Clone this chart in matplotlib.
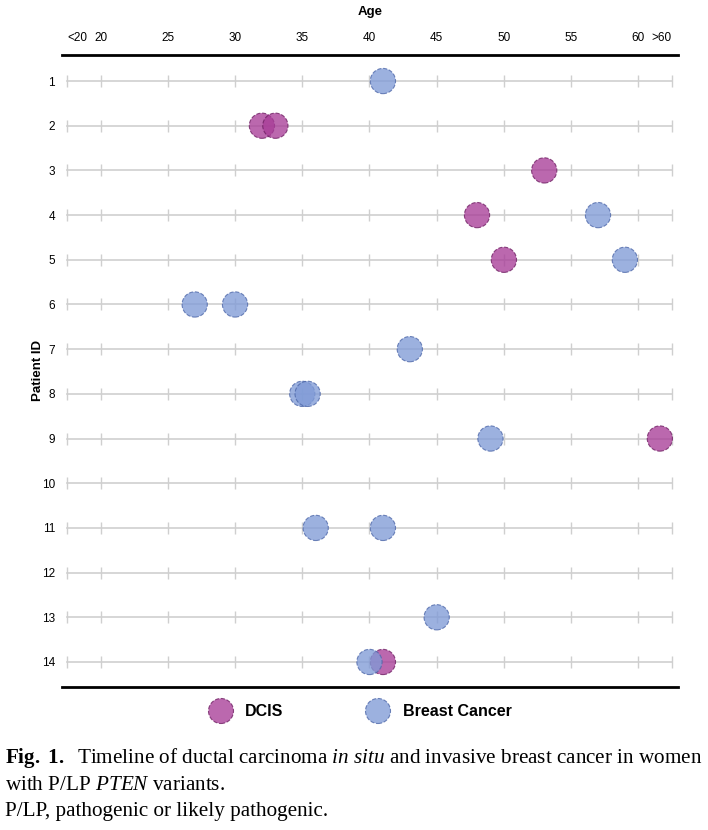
import numpy as np
import matplotlib
matplotlib.use("Agg")
import matplotlib.pyplot as plt

# ---------------- DATA ----------------
tick_pos = [17.5, 20, 25, 30, 35, 40, 45, 50, 55, 60, 62.5]
tick_labels = ["<20", "20", "25", "30", "35", "40", "45", "50", "55", "60", ">60"]
patients = list(range(1, 15))

dcis_patient = [2, 2, 3, 4, 5, 9, 14]
dcis_age = [32, 33, 53, 48, 50, 61.6, 41]

bc_patient = [1, 4, 5, 6, 6, 7, 8, 8, 9, 11, 11, 13, 14]
bc_age = [41, 57, 59, 27, 30, 43, 35, 35.4, 49, 36, 41, 45, 40]

# ---------------- STYLE ----------------
DCIS_COLOR = "#A83D98"
DCIS_EDGE = "#6E1E62"
BC_COLOR = "#809BD7"
BC_EDGE = "#4C66A8"
GRID = "#cfcfcf"
label_font = ["Liberation Sans Narrow", "Liberation Sans", "DejaVu Sans"]

plt.rcParams['font.family'] = ["Liberation Sans", "DejaVu Sans"]
plt.rcParams['mathtext.fontset'] = 'custom'
plt.rcParams['mathtext.rm'] = 'Liberation Serif'
plt.rcParams['mathtext.it'] = 'Liberation Serif:italic'
plt.rcParams['mathtext.bf'] = 'Liberation Serif:bold'

fig = plt.figure(figsize=(7.08, 8.30), dpi=100)
ax = fig.add_axes([0.0876, 0.1723, 0.870, 0.7614])

# row lines with small tick marks
for p in patients:
    ax.plot([tick_pos[0], tick_pos[-1]], [p, p], color=GRID, lw=1.2, zorder=1)
    ax.plot(tick_pos, [p] * len(tick_pos), linestyle="none", marker="|",
            markersize=9, color=GRID, markeredgewidth=1.0, zorder=1)

ax.scatter(dcis_age, dcis_patient, s=330, color=DCIS_COLOR, alpha=0.78,
           edgecolors=DCIS_EDGE, linewidths=0.8, linestyle="--", zorder=3)
ax.scatter(bc_age, bc_patient, s=330, color=BC_COLOR, alpha=0.78,
           edgecolors=BC_EDGE, linewidths=0.8, linestyle="--", zorder=3)

ax.set_xlim(17.13, 62.95)
ax.set_ylim(14.56, 0.418)

ax.xaxis.tick_top()
ax.set_xticks(tick_pos)
ax.set_xticklabels(tick_labels, fontsize=8.5, family=label_font)
ax.tick_params(axis="x", length=0, pad=8)
xl = ax.get_xticklabels()
xl[0].set_horizontalalignment("left")
xl[-1].set_horizontalalignment("right")
ax.set_yticks(patients)
ax.set_yticklabels([str(p) for p in patients], fontsize=8.5, family=label_font)
ax.tick_params(axis="y", length=0, pad=5)

for s in ["left", "right"]:
    ax.spines[s].set_visible(False)
for s in ["top", "bottom"]:
    ax.spines[s].set_linewidth(2)
    ax.spines[s].set_color("black")

fig.text(370 / 708, 1 - 12 / 830, "Age", ha="center", va="center",
         fontsize=9.5, fontweight="bold")
fig.text(38 / 708, 1 - 370 / 830, "Patient ID", ha="center", va="center",
         rotation=90, fontsize=9.5, fontweight="bold")

# legend
ly = 1 - 711 / 830
fig.add_artist(matplotlib.patches.Ellipse((221 / 708, ly), 25 / 708, 25 / 830,
               transform=fig.transFigure, facecolor=DCIS_COLOR, alpha=0.78,
               edgecolor=DCIS_EDGE, lw=0.8, ls="--"))
fig.text(245 / 708, ly, "DCIS", ha="left", va="center", fontsize=11.5, fontweight="bold")
fig.add_artist(matplotlib.patches.Ellipse((378 / 708, ly), 25 / 708, 25 / 830,
               transform=fig.transFigure, facecolor=BC_COLOR, alpha=0.78,
               edgecolor=BC_EDGE, lw=0.8, ls="--"))
fig.text(403 / 708, ly, "Breast Cancer", ha="left", va="center", fontsize=11.5,
         fontweight="bold")

# caption
cap_kw = dict(ha="left", va="center", fontsize=15.2, family="Liberation Serif")
fig.text(5 / 708, 1 - 758 / 830,
         r"$\mathbf{Fig.\ 1.}$  Timeline of ductal carcinoma $\mathit{in\ situ}$ and invasive breast cancer in women",
         **cap_kw)
fig.text(5 / 708, 1 - 785 / 830, r"with P/LP $\mathit{PTEN}$ variants.", **cap_kw)
fig.text(5 / 708, 1 - 811 / 830, "P/LP, pathogenic or likely pathogenic.", **cap_kw)

fig.savefig("out.png", dpi=100)
